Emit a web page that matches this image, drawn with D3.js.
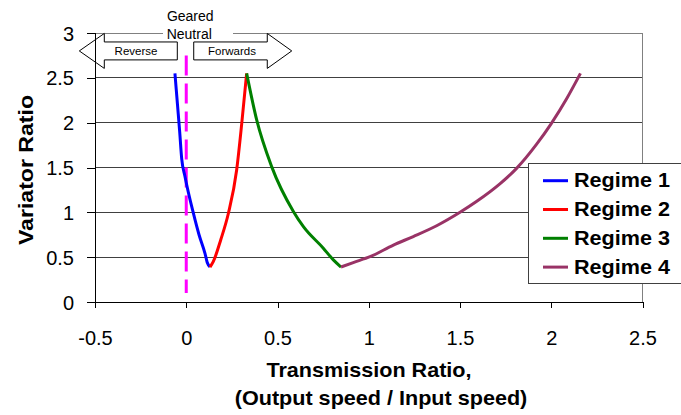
<!DOCTYPE html>
<html>
<head>
<meta charset="utf-8">
<script src="https://cdn.jsdelivr.net/npm/d3@7"></script>
<style>
body { margin: 0; background: #fff; }
text { font-family: Arial, "Liberation Sans", sans-serif; }
</style>
</head>
<body>
<script>
// data
const regimeNames = ["Regime 1", "Regime 2", "Regime 3", "Regime 4"];
const regimeColors = ["#0000ff", "#ff0000", "#008000", "#993366"];

const regime1X = [-0.062, -0.048, -0.036, -0.025, -0.007, 0.039, 0.07, 0.103, 0.115, 0.13];
const regime1Y = [2.55, 2.2, 1.9, 1.6, 1.4, 0.99, 0.75, 0.54, 0.44, 0.39];
const regime2X = [0.13, 0.148, 0.19, 0.231, 0.276, 0.304, 0.331];
const regime2Y = [0.39, 0.45, 0.7, 0.99, 1.47, 1.99, 2.55];
const regime3X = [0.331, 0.386, 0.468, 0.587, 0.642, 0.751, 0.806, 0.848];
const regime3Y = [2.55, 2.03, 1.51, 1.01, 0.84, 0.6, 0.47, 0.39];
const regime4X = [0.848, 0.915, 1.007, 1.135, 1.244, 1.372, 1.5, 1.59, 1.72, 1.81, 1.92, 2.0, 2.085, 2.16];
const regime4Y = [0.39, 0.44, 0.505, 0.635, 0.73, 0.85, 1.0, 1.12, 1.32, 1.49, 1.76, 1.99, 2.27, 2.55];

const neutralX = [0, 0];
const neutralY = [2.75, 0.1];

const xTicks = [-0.5, 0, 0.5, 1, 1.5, 2, 2.5];
const yTicks = [0, 0.5, 1, 1.5, 2, 2.5, 3];

const W = 681, H = 415;
const svg = d3.select("body").append("svg").attr("width", W).attr("height", H);

const x = d3.scaleLinear().domain([-0.5, 2.5]).range([95, 642.5]);
const y = d3.scaleLinear().domain([0, 3]).range([302, 33]);

// gridlines
svg.append("g").selectAll("line")
  .data(yTicks.filter(d => d > 0 && d < 3))
  .join("line")
  .attr("x1", x(-0.5)).attr("x2", x(2.5))
  .attr("y1", d => y(d)).attr("y2", d => y(d))
  .attr("stroke", "#404040").attr("stroke-width", 1).attr("shape-rendering", "crispEdges");

// frame top / right
svg.append("path")
  .attr("d", `M${x(-0.5)},${y(3)}H${x(2.5)}V${y(0)}`)
  .attr("fill", "none").attr("stroke", "#808080").attr("shape-rendering", "crispEdges");

// Geared Neutral label with white box over the top line
svg.append("rect").attr("x", 163).attr("y", 4).attr("width", 70).attr("height", 38).attr("fill", "#fff");
svg.append("text").attr("x", x(0) + 4).attr("y", 21).attr("text-anchor", "middle")
  .attr("font-size", 14).text("Geared");
svg.append("text").attr("x", x(0) + 3).attr("y", 39).attr("text-anchor", "middle")
  .attr("font-size", 14).text("Neutral");

// direction arrows
const arrowY = 2.8, bodyH = 0.1, headH = 0.195;
function arrow(tip, base, end) {
  return `M${x(tip)},${y(arrowY)}L${x(base)},${y(arrowY + headH)}L${x(base)},${y(arrowY + bodyH)}` +
    `L${x(end)},${y(arrowY + bodyH)}L${x(end)},${y(arrowY - bodyH)}L${x(base)},${y(arrowY - bodyH)}` +
    `L${x(base)},${y(arrowY - headH)}Z`;
}
svg.append("path").attr("d", arrow(-0.586, -0.449, -0.049))
  .attr("fill", "#fff").attr("stroke", "#000").attr("stroke-width", 1);
svg.append("path").attr("d", arrow(0.578, 0.444, 0.041))
  .attr("fill", "#fff").attr("stroke", "#000").attr("stroke-width", 1);
svg.append("text").attr("x", 136).attr("y", y(arrowY) + 4).attr("text-anchor", "middle")
  .attr("font-size", 11.5).text("Reverse");
svg.append("text").attr("x", 232).attr("y", y(arrowY) + 4).attr("text-anchor", "middle")
  .attr("font-size", 11.5).text("Forwards");

// axes
const yAxis = svg.append("g").attr("transform", `translate(${x(-0.5)},0)`)
  .call(d3.axisLeft(y).tickValues(yTicks).tickSize(8).tickPadding(13).tickFormat(d3.format("")));
const xAxis = svg.append("g").attr("transform", `translate(0,${y(0)})`)
  .call(d3.axisBottom(x).tickValues(xTicks).tickSize(6).tickPadding(23).tickFormat(d3.format("")));
[yAxis, xAxis].forEach(g => {
  g.select(".domain").attr("stroke", "#000").attr("shape-rendering", "crispEdges");
  g.selectAll(".tick line").attr("stroke", "#000").attr("shape-rendering", "crispEdges");
  g.selectAll("text").attr("font-size", 20).attr("font-family", "Arial, 'Liberation Sans', sans-serif")
    .attr("fill", "#000").text(d => d < 0 ? "-" + Math.abs(d) : d);
});
yAxis.selectAll("text").attr("dy", "0.35em");

// neutral dashed line
svg.append("line")
  .attr("x1", x(neutralX[0])).attr("x2", x(neutralX[1]))
  .attr("y1", y(neutralY[0])).attr("y2", y(neutralY[1]))
  .attr("stroke", "#ff00ff").attr("stroke-width", 3).attr("stroke-dasharray", "20,8");

// regime curves
const regimes = [
  regime1X.map((v, i) => [v, regime1Y[i]]),
  regime2X.map((v, i) => [v, regime2Y[i]]),
  regime3X.map((v, i) => [v, regime3Y[i]]),
  regime4X.map((v, i) => [v, regime4Y[i]])
];
const line = d3.line().curve(d3.curveMonotoneX).x(d => x(d[0])).y(d => y(d[1]));
svg.append("g").selectAll("path")
  .data(regimes)
  .join("path")
  .attr("d", line)
  .attr("fill", "none")
  .attr("stroke", (d, i) => regimeColors[i])
  .attr("stroke-width", 3)
  .attr("stroke-linejoin", "round");

// axis titles
svg.append("text").attr("transform", "translate(369,377) scale(1.08,1)").attr("text-anchor", "middle")
  .attr("font-size", 20).attr("font-weight", "bold").text("Transmission Ratio,");
svg.append("text").attr("transform", "translate(381,405) scale(1.08,1)").attr("text-anchor", "middle")
  .attr("font-size", 20).attr("font-weight", "bold").text("(Output speed / Input speed)");
svg.append("text").attr("transform", "translate(33,170) rotate(-90) scale(1.1,1)").attr("text-anchor", "middle")
  .attr("font-size", 21).attr("font-weight", "bold").text("Variator Ratio");

// legend
const legend = svg.append("g");
legend.append("rect").attr("x", 528.5).attr("y", 163.5).attr("width", 160).attr("height", 120)
  .attr("fill", "#fff").attr("stroke", "#404040").attr("stroke-width", 1);
const items = legend.selectAll("g.item")
  .data(regimeNames)
  .join("g").attr("class", "item")
  .attr("transform", (d, i) => `translate(0,${180.7 + i * 28.8})`);
items.append("line").attr("x1", 543).attr("x2", 568)
  .attr("stroke", (d, i) => regimeColors[i]).attr("stroke-width", 3);
items.append("text").attr("transform", "translate(574,6.5) scale(1.08,1)")
  .attr("font-size", 20).attr("font-weight", "bold").text(d => d);
</script>
</body>
</html>
